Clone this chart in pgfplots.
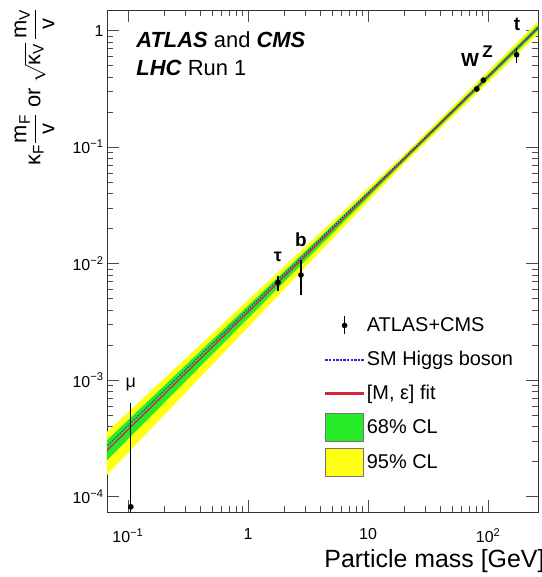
\documentclass[border=0pt]{standalone}
\usepackage{fontspec}
\setmainfont{Liberation Sans}
\usepackage{amsmath}
\usepackage{pgfplots}
\pgfplotsset{compat=1.18}

\definecolor{bandgreen}{RGB}{40,235,40}
\definecolor{bandyellow}{RGB}{255,255,20}
\definecolor{smblue}{RGB}{40,40,210}
\definecolor{fitred}{RGB}{210,40,60}

\newcommand{\fsz}[1]{\fontsize{#1}{#1}\selectfont}

\begin{document}
\begin{tikzpicture}
\begin{axis}[
    name=ax,
    xmode=log, ymode=log,
    scale only axis,
    width=431bp, height=502bp,
    xmin=0.067, xmax=260,
    ymin=7.4e-5, ymax=1.5,
    xtick={0.1,1,10,100},
    xticklabels={10\textsuperscript{−1},1,10,10\textsuperscript{2}},
    ytick={1e-4,1e-3,1e-2,1e-1,1},
    yticklabels={10\textsuperscript{−4},10\textsuperscript{−3},10\textsuperscript{−2},10\textsuperscript{−1},1},
    tick align=inside,
    major tick length=12bp, minor tick length=6bp,
    tick style={black!70, line width=0.6pt},
    axis line style={black!80, line width=0.8pt},
    tick label style={font=\fsz{16}},
    xticklabel style={yshift=-13bp},
    legend style={at={(rel axis cs:0.506,0.40)}, anchor=north west,
        draw=none, fill=none, inner sep=0pt, font=\fsz{20},
        row sep=6bp, cells={anchor=west},
        nodes={inner sep=3bp}},
]
% 95% and 68% CL bands
\addplot[fill=bandyellow, draw=none, forget plot] coordinates {
    (0.05,2.72e-4) (20,0.0867) (300,1.383)
    (300,1.074) (20,0.0721) (0.05,1.122e-4)};
\addplot[fill=bandgreen, draw=none, forget plot] coordinates {
    (0.05,2.29e-4) (20,0.0824) (300,1.291)
    (300,1.151) (20,0.0759) (0.05,1.514e-4)};
% [M, eps] fit and SM line
\addplot[fitred, line width=1.3pt, forget plot] coordinates {(0.05,1.862e-4) (300,1.219)};
\addplot[smblue, line width=1.1pt, dash pattern=on 1.4pt off 1.4pt, forget plot]
    coordinates {(0.05,2.031e-4) (300,1.2184)};
% measurements
\addplot[only marks, mark=*, mark size=2.6bp, black, forget plot,
    error bars/.cd, y dir=both, y explicit, error mark=none,
    error bar style={line width=1.3pt, black}]
    coordinates {
    (0.1057,8.2e-5) += (0,5.6e-4) -= (0,8.1e-5)
    (1.777,6.9e-3) += (0,0.9e-3) -= (0,1.1e-3)
    (2.76,8.0e-3) += (0,2.8e-3) -= (0,2.6e-3)
    (80.4,0.315) += (0,0.02) -= (0,0.02)
    (91.2,0.375) += (0,0.02) -= (0,0.02)
    (172.5,0.62) += (0,0.09) -= (0,0.09)
    };

\node[font=\fsz{18}] at (axis cs:0.1057,9.2e-4) {μ};
\node[font=\fsz{18}\bfseries] at (axis cs:1.777,1.15e-2) {τ};
\node[font=\fsz{19}\bfseries] at (axis cs:2.76,1.61e-2) {b};
\node[font=\fsz{19}\bfseries] at (axis cs:70.8,0.56) {W};
\node[font=\fsz{17}\bfseries] at (axis cs:99,0.66) {Z};
\node[font=\fsz{19}\bfseries] at (axis cs:174,1.13) {t};

\node[anchor=base west, font=\fsz{22}] at (rel axis cs:0.060,0.926)
    {\textbf{\textit{ATLAS}} and \textbf{\textit{CMS}}};
\node[anchor=base west, font=\fsz{22}] at (rel axis cs:0.060,0.870)
    {\textbf{\textit{LHC}} Run 1};

\addlegendimage{legend image code/.code={
    \path[draw=none, fill=none] (0bp,-14bp) rectangle (38bp,14bp);
    \draw[black, line width=1.3pt] (19bp,-9bp) -- (19bp,9bp);
    \fill[black] (19bp,0bp) circle (2.6bp);}}
\addlegendentry{ATLAS+CMS}
\addlegendimage{legend image code/.code={
    \path[draw=none, fill=none] (0bp,-14bp) rectangle (38bp,14bp);
    \foreach \i in {0,...,10} {\fill[smblue] (\i*3.6bp,-0.6bp) rectangle ++(1.5bp,1.2bp);}}}
\addlegendentry{SM Higgs boson}
\addlegendimage{legend image code/.code={
    \path[draw=none, fill=none] (0bp,-14bp) rectangle (38bp,14bp);
    \fill[fitred] (0bp,-0.9bp) rectangle (38bp,0.9bp);}}
\addlegendentry{{[M, ε] fit}}
\addlegendimage{legend image code/.code={
    \draw[fill=bandgreen, draw=black!55, line width=0.6pt] (0bp,-14bp) rectangle (38bp,14bp);}}
\addlegendentry{68\% CL}
\addlegendimage{legend image code/.code={
    \draw[fill=bandyellow, draw=black!55, line width=0.6pt] (0bp,-14bp) rectangle (38bp,14bp);}}
\addlegendentry{95\% CL}
\end{axis}

\node[rotate=90, anchor=south east, font=\fsz{22}] at ([xshift=-49bp,yshift=5bp]ax.north west)
    {κ\textsubscript{F}$\dfrac{\text{m}_{\text{F}}}{\text{v}}$ or $\sqrt{\text{κ}_{\text{V}}}\,\dfrac{\text{m}_{\text{V}}}{\text{v}}$};
\node[anchor=base east, font=\fsz{25}] at ([xshift=10bp,yshift=-55bp]ax.south east)
    {Particle mass [GeV]};

\pgfresetboundingbox
\path[use as bounding box] ([xshift=-107bp,yshift=-65bp]ax.south west)
    rectangle ([xshift=4bp,yshift=10bp]ax.north east);
\end{tikzpicture}
\end{document}
